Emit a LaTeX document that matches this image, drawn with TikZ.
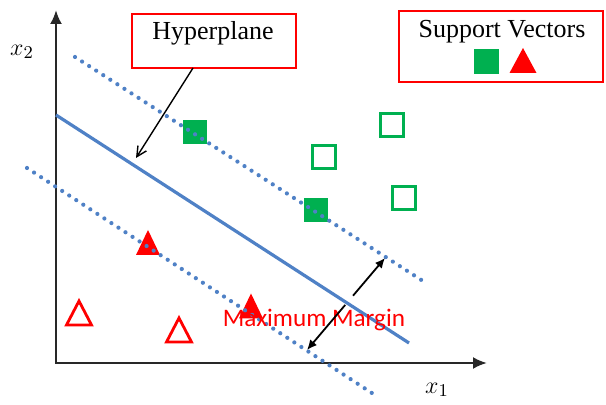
\documentclass[tikz,border=0pt]{standalone}
\usepackage{fontspec}
\setmainfont{Liberation Serif}
\newfontfamily\calfont{Carlito}
\usetikzlibrary{arrows.meta,calc}
\definecolor{svgreen}{RGB}{0,176,80}
\definecolor{svred}{RGB}{255,0,0}
\definecolor{svblue}{RGB}{79,129,198}
\definecolor{axisgray}{RGB}{40,40,40}
\begin{document}
\begin{tikzpicture}[x=0.5pt,y=-0.5pt,
  axisline/.style={draw=axisgray,line width=1.2pt,{Latex[length=7pt,width=6pt]}-{Latex[length=7pt,width=6pt]}},
  hyper/.style={draw=svblue,line width=1.6pt},
  dotline/.style={draw=svblue,line width=2.1pt,line cap=round,dash pattern=on 0pt off 4.2pt},
  fullsq/.style={fill=svgreen,draw=none,minimum size=12pt,inner sep=0pt},
  emptysq/.style={draw=svgreen,line width=1.4pt,minimum size=11.2pt,inner sep=0pt},
  fulltri/.style={fill=svred,draw=none},
  emptytri/.style={draw=svred,line width=1.4pt,line join=miter},
  redbox/.style={draw=svred,line width=0.8pt,fill=white,inner sep=0pt},
  boxtext/.style={font=\fontsize{13}{15}\selectfont,inner sep=0pt},
  axlabel/.style={font=\fontsize{12.5}{14}\selectfont,inner sep=0pt},
  pointer/.style={draw=black,line width=0.7pt,-{Straight Barb[length=5pt,width=5pt]}},
  marginarrow/.style={draw=black,line width=0.9pt,-{Latex[length=5pt,width=4.5pt]}}
]
\useasboundingbox[fill=white] (0,0) rectangle (606,405);

% axes
\coordinate (ytop) at (56,10);
\coordinate (xend) at (487,363);
\draw[axisline] (ytop) |- (xend);
\node[axlabel] (xtwo) at (22,52) {$x_2$};
\node[axlabel] (xone) at (437,390) {$x_1$};

% hyperplane
\coordinate (hp1) at (56,115);
\coordinate (hp2) at (409,343);
\draw[hyper] (hp1) -- (hp2);

% green squares
\node[fullsq] (g1) at (195,132) {};
\node[fullsq] (g2) at (316,210) {};
\node[emptysq] (g3) at (392,125) {};
\node[emptysq] (g4) at (324,157) {};
\node[emptysq] (g5) at (404,198) {};

% red triangles
\coordinate (r1) at (148,242.5);
\coordinate (r2) at (251,306);
\coordinate (r3) at (79,313);
\coordinate (r4) at (179,330);
\fill[fulltri] (r1) ++(0,-12.5) -- ++(12,25) -- ++(-24,0) -- cycle;
\fill[fulltri] (r2) ++(0,-12.5) -- ++(12,25) -- ++(-24,0) -- cycle;
\draw[emptytri] (r3) ++(0,-12) -- ++(12.5,24) -- ++(-25,0) -- cycle;
\draw[emptytri] (r4) ++(0,-12) -- ++(12.5,24) -- ++(-25,0) -- cycle;

% margin lines (drawn over the support vectors)
\coordinate (u1) at (75,57);
\coordinate (u2) at (426,283);
\coordinate (l1) at (27,168);
\coordinate (l2) at (378,397);
\draw[dotline] (u1) -- (u2);
\draw[dotline] (l1) -- (l2);

% maximum margin
\node[font=\calfont\fontsize{12.6}{14}\selectfont,text=svred,inner sep=0pt] (mm) at (314,320) {Maximum Margin};
\coordinate (mu) at (385,258);
\coordinate (ml) at (307,350);
\coordinate (mmid1) at ($(mu)!0.41!(ml)$);
\coordinate (mmid2) at ($(mu)!0.51!(ml)$);
\draw[marginarrow] (mmid1) -- (mu);
\draw[marginarrow] (mmid2) -- (ml);

% hyperplane label
\node[redbox,minimum width=82pt,minimum height=27pt] (hbox) at (214,41) {};
\node[boxtext] (htext) at (213,33) {Hyperplane};
\coordinate (hstart) at (193,68);
\coordinate (hend) at (136,158);
\draw[pointer] (hstart) -- (hend);

% support vectors legend
\node[redbox,minimum width=102pt,minimum height=35.5pt] (sbox) at (501,46.5) {};
\node[boxtext] (stext) at (502,32) {Support Vectors};
\node[fullsq,minimum size=12.5pt] (lsq) at (486.5,62) {};
\coordinate (ltri) at (523,60.5);
\fill[fulltri] (ltri) ++(0,-12.5) -- ++(13.5,25) -- ++(-27,0) -- cycle;
\end{tikzpicture}
\end{document}
